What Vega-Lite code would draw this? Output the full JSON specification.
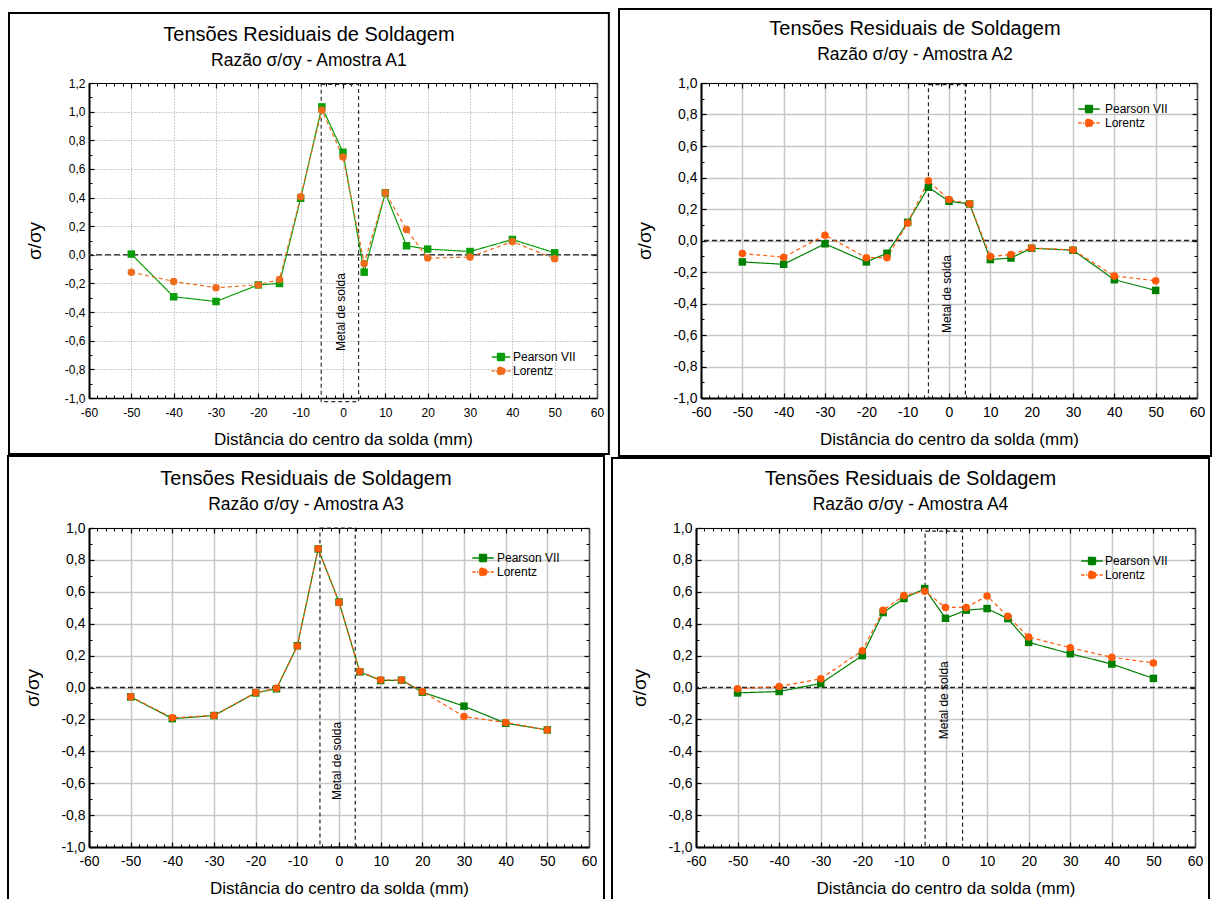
{
"$schema": "https://vega.github.io/schema/vega-lite/v6.json",
"background": "white",
"padding": {"left": 7, "top": 7, "right": 0, "bottom": 0},
"config": {
 "view": {"stroke": null},
 "font": "Liberation Sans",
 "axis": {"labelFont": "Liberation Sans", "titleFont": "Liberation Sans", "labelColor": "black", "titleColor": "black", "titleFontWeight": "normal", "labelFlush": false, "labelOverlap": false, "domainColor": "black", "tickColor": "black", "minExtent": 0},
 "title": {"font": "Liberation Sans", "fontSize": 20, "fontWeight": "normal", "color": "black", "subtitleFont": "Liberation Sans", "subtitleFontSize": 17.5, "subtitleColor": "black", "subtitlePadding": 7, "anchor": "middle", "frame": "bounds"},
 "legend": {"labelFont": "Liberation Sans", "labelColor": "black", "labelFontSize": 12, "padding": 0, "symbolSize": 100, "rowPadding": 0}
},
"datasets": {
 "a1": [
  {"d": -50, "fit": "Pearson VII", "v": 0.005}, {"d": -40, "fit": "Pearson VII", "v": -0.293}, {"d": -30, "fit": "Pearson VII", "v": -0.326}, {"d": -20, "fit": "Pearson VII", "v": -0.21}, {"d": -15, "fit": "Pearson VII", "v": -0.2}, {"d": -10, "fit": "Pearson VII", "v": 0.395}, {"d": -5, "fit": "Pearson VII", "v": 1.033}, {"d": 0, "fit": "Pearson VII", "v": 0.716}, {"d": 5, "fit": "Pearson VII", "v": -0.121}, {"d": 10, "fit": "Pearson VII", "v": 0.433}, {"d": 15, "fit": "Pearson VII", "v": 0.063}, {"d": 20, "fit": "Pearson VII", "v": 0.04}, {"d": 30, "fit": "Pearson VII", "v": 0.023}, {"d": 40, "fit": "Pearson VII", "v": 0.107}, {"d": 50, "fit": "Pearson VII", "v": 0.014},
  {"d": -50, "fit": "Lorentz", "v": -0.121}, {"d": -40, "fit": "Lorentz", "v": -0.186}, {"d": -30, "fit": "Lorentz", "v": -0.23}, {"d": -20, "fit": "Lorentz", "v": -0.21}, {"d": -15, "fit": "Lorentz", "v": -0.172}, {"d": -10, "fit": "Lorentz", "v": 0.405}, {"d": -5, "fit": "Lorentz", "v": 1.009}, {"d": 0, "fit": "Lorentz", "v": 0.684}, {"d": 5, "fit": "Lorentz", "v": -0.06}, {"d": 10, "fit": "Lorentz", "v": 0.433}, {"d": 15, "fit": "Lorentz", "v": 0.177}, {"d": 20, "fit": "Lorentz", "v": -0.023}, {"d": 30, "fit": "Lorentz", "v": -0.016}, {"d": 40, "fit": "Lorentz", "v": 0.093}, {"d": 50, "fit": "Lorentz", "v": -0.028}
 ],
 "a2": [
  {"d": -50, "fit": "Pearson VII", "v": -0.136}, {"d": -40, "fit": "Pearson VII", "v": -0.151}, {"d": -30, "fit": "Pearson VII", "v": -0.021}, {"d": -20, "fit": "Pearson VII", "v": -0.136}, {"d": -15, "fit": "Pearson VII", "v": -0.081}, {"d": -10, "fit": "Pearson VII", "v": 0.115}, {"d": -5, "fit": "Pearson VII", "v": 0.338}, {"d": 0, "fit": "Pearson VII", "v": 0.249}, {"d": 5, "fit": "Pearson VII", "v": 0.232}, {"d": 10, "fit": "Pearson VII", "v": -0.121}, {"d": 15, "fit": "Pearson VII", "v": -0.111}, {"d": 20, "fit": "Pearson VII", "v": -0.049}, {"d": 30, "fit": "Pearson VII", "v": -0.062}, {"d": 40, "fit": "Pearson VII", "v": -0.249}, {"d": 50, "fit": "Pearson VII", "v": -0.317},
  {"d": -50, "fit": "Lorentz", "v": -0.083}, {"d": -40, "fit": "Lorentz", "v": -0.106}, {"d": -30, "fit": "Lorentz", "v": 0.034}, {"d": -20, "fit": "Lorentz", "v": -0.109}, {"d": -15, "fit": "Lorentz", "v": -0.109}, {"d": -10, "fit": "Lorentz", "v": 0.111}, {"d": -5, "fit": "Lorentz", "v": 0.379}, {"d": 0, "fit": "Lorentz", "v": 0.26}, {"d": 5, "fit": "Lorentz", "v": 0.234}, {"d": 10, "fit": "Lorentz", "v": -0.102}, {"d": 15, "fit": "Lorentz", "v": -0.089}, {"d": 20, "fit": "Lorentz", "v": -0.047}, {"d": 30, "fit": "Lorentz", "v": -0.06}, {"d": 40, "fit": "Lorentz", "v": -0.226}, {"d": 50, "fit": "Lorentz", "v": -0.255}
 ],
 "a3": [
  {"d": -50, "fit": "Pearson VII", "v": -0.059}, {"d": -40, "fit": "Pearson VII", "v": -0.195}, {"d": -30, "fit": "Pearson VII", "v": -0.176}, {"d": -20, "fit": "Pearson VII", "v": -0.034}, {"d": -15, "fit": "Pearson VII", "v": -0.008}, {"d": -10, "fit": "Pearson VII", "v": 0.262}, {"d": -5, "fit": "Pearson VII", "v": 0.869}, {"d": 0, "fit": "Pearson VII", "v": 0.536}, {"d": 5, "fit": "Pearson VII", "v": 0.098}, {"d": 10, "fit": "Pearson VII", "v": 0.044}, {"d": 15, "fit": "Pearson VII", "v": 0.046}, {"d": 20, "fit": "Pearson VII", "v": -0.029}, {"d": 30, "fit": "Pearson VII", "v": -0.117}, {"d": 40, "fit": "Pearson VII", "v": -0.224}, {"d": 50, "fit": "Pearson VII", "v": -0.266},
  {"d": -50, "fit": "Lorentz", "v": -0.058}, {"d": -40, "fit": "Lorentz", "v": -0.19}, {"d": -30, "fit": "Lorentz", "v": -0.175}, {"d": -20, "fit": "Lorentz", "v": -0.032}, {"d": -15, "fit": "Lorentz", "v": -0.005}, {"d": -10, "fit": "Lorentz", "v": 0.26}, {"d": -5, "fit": "Lorentz", "v": 0.87}, {"d": 0, "fit": "Lorentz", "v": 0.535}, {"d": 5, "fit": "Lorentz", "v": 0.1}, {"d": 10, "fit": "Lorentz", "v": 0.047}, {"d": 15, "fit": "Lorentz", "v": 0.047}, {"d": 20, "fit": "Lorentz", "v": -0.025}, {"d": 30, "fit": "Lorentz", "v": -0.182}, {"d": 40, "fit": "Lorentz", "v": -0.22}, {"d": 50, "fit": "Lorentz", "v": -0.266}
 ],
 "a4": [
  {"d": -50, "fit": "Pearson VII", "v": -0.034}, {"d": -40, "fit": "Pearson VII", "v": -0.025}, {"d": -30, "fit": "Pearson VII", "v": 0.025}, {"d": -20, "fit": "Pearson VII", "v": 0.2}, {"d": -15, "fit": "Pearson VII", "v": 0.47}, {"d": -10, "fit": "Pearson VII", "v": 0.558}, {"d": -5, "fit": "Pearson VII", "v": 0.62}, {"d": 0, "fit": "Pearson VII", "v": 0.434}, {"d": 5, "fit": "Pearson VII", "v": 0.485}, {"d": 10, "fit": "Pearson VII", "v": 0.495}, {"d": 15, "fit": "Pearson VII", "v": 0.432}, {"d": 20, "fit": "Pearson VII", "v": 0.283}, {"d": 30, "fit": "Pearson VII", "v": 0.212}, {"d": 40, "fit": "Pearson VII", "v": 0.147}, {"d": 50, "fit": "Pearson VII", "v": 0.057},
  {"d": -50, "fit": "Lorentz", "v": -0.008}, {"d": -40, "fit": "Lorentz", "v": 0.006}, {"d": -30, "fit": "Lorentz", "v": 0.055}, {"d": -20, "fit": "Lorentz", "v": 0.231}, {"d": -15, "fit": "Lorentz", "v": 0.484}, {"d": -10, "fit": "Lorentz", "v": 0.577}, {"d": -5, "fit": "Lorentz", "v": 0.604}, {"d": 0, "fit": "Lorentz", "v": 0.502}, {"d": 5, "fit": "Lorentz", "v": 0.502}, {"d": 10, "fit": "Lorentz", "v": 0.574}, {"d": 15, "fit": "Lorentz", "v": 0.446}, {"d": 20, "fit": "Lorentz", "v": 0.316}, {"d": 30, "fit": "Lorentz", "v": 0.25}, {"d": 40, "fit": "Lorentz", "v": 0.189}, {"d": 50, "fit": "Lorentz", "v": 0.154}
 ]
},
"resolve": {"scale": {"color": "independent", "strokeDash": "independent"}},
"spacing": -2,
"vconcat": [
{
"resolve": {"scale": {"color": "independent", "strokeDash": "independent"}},
"spacing": 7,
"hconcat": [
{
 "width": 508, "height": 315,
 "data": {"name": "a1"},
 "title": {"text": "Tensões Residuais de Soldagem", "subtitle": "Razão σ/σy - Amostra A1", "offset": -58},
 "resolve": {"axis": {"x": "independent", "y": "independent"}},
 "layer": [
  {"data": {"values": [{}]}, "mark": {"type": "rect", "fill": "white", "fillOpacity": 0, "stroke": "black", "strokeWidth": 2},
   "encoding": {"x": {"datum": -78.9, "type": "quantitative", "scale": {"domain": [-60, 60], "nice": false, "zero": false}, "axis": null}, "x2": {"datum": 62.8},
                "y": {"datum": 1.689, "type": "quantitative", "scale": {"domain": [-1, 1.2], "nice": false, "zero": false}, "axis": null}, "y2": {"datum": -1.391}}},
  {"data": {"values": [{}]}, "mark": {"type": "rect", "fill": "white", "fillOpacity": 0, "stroke": "#333", "strokeWidth": 1.2, "strokeDash": [4, 3]},
   "encoding": {"x": {"datum": -5.15, "type": "quantitative", "scale": {"domain": [-60, 60], "nice": false, "zero": false}, "axis": null}, "x2": {"datum": 3.68},
                "y": {"datum": 1.19, "type": "quantitative", "scale": {"domain": [-1, 1.2], "nice": false, "zero": false}, "axis": null}, "y2": {"datum": -1.026}}},
  {"data": {"values": [{}]}, "mark": {"type": "rule", "color": "#444", "strokeWidth": 1.5, "strokeDash": [6, 3]},
   "encoding": {"y": {"datum": 0, "type": "quantitative", "scale": {"domain": [-1, 1.2], "nice": false, "zero": false}, "axis": null}}},
  {"data": {"values": [{"t": "Metal de solda"}]}, "mark": {"type": "text", "angle": 270, "fontSize": 12, "font": "Liberation Sans", "color": "black", "align": "center", "baseline": "middle"},
   "encoding": {"text": {"field": "t"}, "x": {"datum": -0.55, "type": "quantitative", "scale": {"domain": [-60, 60], "nice": false, "zero": false}, "axis": null},
                "y": {"datum": -0.4, "type": "quantitative", "scale": {"domain": [-1, 1.2], "nice": false, "zero": false}, "axis": null}}},
  {"mark": {"type": "line", "strokeWidth": 1.2},
   "encoding": {
    "x": {"field": "d", "type": "quantitative", "scale": {"domain": [-60, 60], "nice": false, "zero": false},
          "axis": {"orient": "bottom", "values": [-60,-50,-40,-30,-20,-10,0,10,20,30,40,50,60], "grid": true, "gridColor": "#9a9a9a", "gridDash": [1, 2], "gridWidth": 1, "ticks": false, "domain": true, "domainWidth": 1.5, "labelExpr": "(datum.value < 0 ? '-' : '') + abs(datum.value)", "labelFontSize": 12, "labelPadding": 9, "title": "Distância do centro da solda (mm)", "titleFontSize": 17, "titlePadding": 13}},
    "y": {"field": "v", "type": "quantitative", "scale": {"domain": [-1, 1.2], "nice": false, "zero": false},
          "axis": {"orient": "left", "values": [-1,-0.8,-0.6,-0.4,-0.2,0,0.2,0.4,0.6,0.8,1,1.2], "grid": true, "gridColor": "#9a9a9a", "gridDash": [1, 2], "gridWidth": 1, "ticks": false, "domain": true, "domainWidth": 2, "labelExpr": "(datum.value < -0.0001 ? '-' : '') + replace(format(abs(datum.value), '.1f'), '.', ',')", "labelFontSize": 12, "labelPadding": 4, "title": "σ/σy", "titleFontSize": 19, "titlePadding": 20}},
    "color": {"field": "fit", "type": "nominal", "scale": {"domain": ["Pearson VII", "Lorentz"], "range": ["#0a9e0a", "#ee6b1c"]},
              "legend": {"orient": "none", "legendX": 406, "legendY": 268, "title": null, "labelOffset": 6,
                         "encode": {"symbols": {"update": {
                           "shape": {"signal": "datum.value === 'Pearson VII' ? 'M-1.86,0H1.86M-0.7,-0.7H0.7V0.7H-0.7Z' : 'M-1.86,0H-1.3M-1.05,0H-0.85M0.85,0H1.05M1.3,0H1.86M0.8,0A0.8,0.8,0,1,1,-0.8,0A0.8,0.8,0,1,1,0.8,0Z'"},
                           "fill": {"signal": "datum.value === 'Pearson VII' ? '#0a9e0a' : '#ee6b1c'"},
                           "size": {"value": 100}, "strokeWidth": {"value": 1.3}, "opacity": {"value": 1}, "fillOpacity": {"value": 1}}}}}},
    "strokeDash": {"field": "fit", "type": "nominal", "scale": {"domain": ["Pearson VII", "Lorentz"], "range": [[1, 0], [4, 3]]}, "legend": null}
   }},
  {"transform": [{"filter": "datum.fit === 'Pearson VII'"}],
   "mark": {"type": "point", "shape": "square", "filled": true, "size": 56, "opacity": 1, "color": "#0a9e0a"},
   "encoding": {
    "x": {"field": "d", "type": "quantitative", "scale": {"domain": [-60, 60], "nice": false, "zero": false}, "axis": null},
    "y": {"field": "v", "type": "quantitative", "scale": {"domain": [-1, 1.2], "nice": false, "zero": false}, "axis": null}
   }},
  {"transform": [{"filter": "datum.fit === 'Lorentz'"}],
   "mark": {"type": "point", "shape": "circle", "filled": true, "size": 56, "opacity": 1, "color": "#ee6b1c"},
   "encoding": {
    "x": {"field": "d", "type": "quantitative", "scale": {"domain": [-60, 60], "nice": false, "zero": false}, "axis": null},
    "y": {"field": "v", "type": "quantitative", "scale": {"domain": [-1, 1.2], "nice": false, "zero": false}, "axis": null}
   }},
  {"mark": {"type": "point", "opacity": 0},
   "encoding": {
    "x": {"field": "d", "type": "quantitative", "scale": {"domain": [-60, 60], "nice": false, "zero": false}, "axis": {"orient": "bottom", "values": [-60,-50,-40,-30,-20,-10,0,10,20,30,40,50,60], "labels": false, "domain": false, "grid": false, "ticks": true, "tickSize": -5, "tickWidth": 1.2, "title": null}},
    "y": {"field": "v", "type": "quantitative", "scale": {"domain": [-1, 1.2], "nice": false, "zero": false}, "axis": {"orient": "left", "values": [-1,-0.8,-0.6,-0.4,-0.2,0,0.2,0.4,0.6,0.8,1,1.2], "labels": false, "domain": false, "grid": false, "ticks": true, "tickSize": -5, "tickWidth": 1.2, "title": null}}
   }},
  {"mark": {"type": "point", "opacity": 0},
   "encoding": {
    "x": {"field": "d", "type": "quantitative", "scale": {"domain": [-60, 60], "nice": false, "zero": false}, "axis": {"orient": "bottom", "values": [-58,-56,-54,-52,-48,-46,-44,-42,-38,-36,-34,-32,-28,-26,-24,-22,-18,-16,-14,-12,-8,-6,-4,-2,2,4,6,8,12,14,16,18,22,24,26,28,32,34,36,38,42,44,46,48,52,54,56,58], "labels": false, "domain": false, "grid": false, "ticks": true, "tickSize": -3, "tickWidth": 1, "title": null}},
    "y": {"field": "v", "type": "quantitative", "scale": {"domain": [-1, 1.2], "nice": false, "zero": false}, "axis": {"orient": "left", "values": [-0.9,-0.7,-0.5,-0.3,-0.1,0.1,0.3,0.5,0.7,0.9,1.1], "labels": false, "domain": false, "grid": false, "ticks": true, "tickSize": -3, "tickWidth": 1, "title": null}}
   }},
  {"mark": {"type": "point", "opacity": 0},
   "encoding": {
    "x": {"field": "d", "type": "quantitative", "scale": {"domain": [-60, 60], "nice": false, "zero": false}, "axis": {"orient": "top", "values": [-60,-50,-40,-30,-20,-10,0,10,20,30,40,50,60], "labels": false, "domain": true, "domainWidth": 1.2, "grid": false, "ticks": true, "tickSize": -5, "tickWidth": 1.2, "title": null}},
    "y": {"field": "v", "type": "quantitative", "scale": {"domain": [-1, 1.2], "nice": false, "zero": false}, "axis": {"orient": "right", "values": [-1,-0.8,-0.6,-0.4,-0.2,0,0.2,0.4,0.6,0.8,1,1.2], "labels": false, "domain": true, "domainColor": "#555", "domainWidth": 1.5, "grid": false, "ticks": true, "tickSize": -5, "tickWidth": 1.2, "title": null}}
   }},
  {"mark": {"type": "point", "opacity": 0},
   "encoding": {
    "x": {"field": "d", "type": "quantitative", "scale": {"domain": [-60, 60], "nice": false, "zero": false}, "axis": {"orient": "top", "values": [-58,-56,-54,-52,-48,-46,-44,-42,-38,-36,-34,-32,-28,-26,-24,-22,-18,-16,-14,-12,-8,-6,-4,-2,2,4,6,8,12,14,16,18,22,24,26,28,32,34,36,38,42,44,46,48,52,54,56,58], "labels": false, "domain": false, "grid": false, "ticks": true, "tickSize": -3, "tickWidth": 1, "title": null}},
    "y": {"field": "v", "type": "quantitative", "scale": {"domain": [-1, 1.2], "nice": false, "zero": false}, "axis": {"orient": "right", "values": [-0.9,-0.7,-0.5,-0.3,-0.1,0.1,0.3,0.5,0.7,0.9,1.1], "labels": false, "domain": false, "grid": false, "ticks": true, "tickSize": -3, "tickWidth": 1, "title": null}}
   }}
 ]
},
{
 "width": 496, "height": 315,
 "data": {"name": "a2"},
 "title": {"text": "Tensões Residuais de Soldagem", "subtitle": "Razão σ/σy - Amostra A2", "offset": -56},
 "resolve": {"axis": {"x": "independent", "y": "independent"}},
 "layer": [
  {"data": {"values": [{}]}, "mark": {"type": "rect", "fill": "white", "fillOpacity": 0, "stroke": "black", "strokeWidth": 2},
   "encoding": {"x": {"datum": -79.84, "type": "quantitative", "scale": {"domain": [-60, 60], "nice": false, "zero": false}, "axis": null}, "x2": {"datum": 63.39},
                "y": {"datum": 1.47, "type": "quantitative", "scale": {"domain": [-1, 1], "nice": false, "zero": false}, "axis": null}, "y2": {"datum": -1.368}}},
  {"data": {"values": [{}]}, "mark": {"type": "rect", "fill": "white", "fillOpacity": 0, "stroke": "#222", "strokeWidth": 1.2, "strokeDash": [4, 3]},
   "encoding": {"x": {"datum": -4.97, "type": "quantitative", "scale": {"domain": [-60, 60], "nice": false, "zero": false}, "axis": null}, "x2": {"datum": 3.96},
                "y": {"datum": 0.99, "type": "quantitative", "scale": {"domain": [-1, 1], "nice": false, "zero": false}, "axis": null}, "y2": {"datum": -1.0}}},
  {"data": {"values": [{}]}, "mark": {"type": "rule", "color": "#222", "strokeWidth": 1.3, "strokeDash": [5, 3]},
   "encoding": {"y": {"datum": 0, "type": "quantitative", "scale": {"domain": [-1, 1], "nice": false, "zero": false}, "axis": null}}},
  {"data": {"values": [{"t": "Metal de solda"}]}, "mark": {"type": "text", "angle": 270, "fontSize": 12, "font": "Liberation Sans", "color": "black", "align": "center", "baseline": "middle"},
   "encoding": {"text": {"field": "t"}, "x": {"datum": -0.55, "type": "quantitative", "scale": {"domain": [-60, 60], "nice": false, "zero": false}, "axis": null},
                "y": {"datum": -0.34, "type": "quantitative", "scale": {"domain": [-1, 1], "nice": false, "zero": false}, "axis": null}}},
  {"mark": {"type": "line", "strokeWidth": 1.2},
   "encoding": {
    "x": {"field": "d", "type": "quantitative", "scale": {"domain": [-60, 60], "nice": false, "zero": false},
          "axis": {"orient": "bottom", "values": [-60,-50,-40,-30,-20,-10,0,10,20,30,40,50,60], "grid": true, "gridColor": "#c8c8c8", "gridWidth": 1.5, "ticks": false, "domain": true, "domainWidth": 2, "labelExpr": "(datum.value < 0 ? '-' : '') + abs(datum.value)", "labelFontSize": 14, "labelPadding": 7, "title": "Distância do centro da solda (mm)", "titleFontSize": 17, "titlePadding": 12}},
    "y": {"field": "v", "type": "quantitative", "scale": {"domain": [-1, 1], "nice": false, "zero": false},
          "axis": {"orient": "left", "values": [-1,-0.8,-0.6,-0.4,-0.2,0,0.2,0.4,0.6,0.8,1], "grid": true, "gridColor": "#c8c8c8", "gridWidth": 1.5, "ticks": false, "domain": true, "domainWidth": 2, "labelExpr": "(datum.value < -0.0001 ? '-' : '') + replace(format(abs(datum.value), '.1f'), '.', ',')", "labelFontSize": 14, "labelPadding": 4, "title": "σ/σy", "titleFontSize": 19, "titlePadding": 18}},
    "color": {"field": "fit", "type": "nominal", "scale": {"domain": ["Pearson VII", "Lorentz"], "range": ["#008000", "#ff5a0a"]},
              "legend": {"orient": "none", "legendX": 382, "legendY": 20, "title": null, "labelOffset": 10,
                         "encode": {"symbols": {"update": {
                           "shape": {"signal": "datum.value === 'Pearson VII' ? 'M-2.15,0H2.15M-0.7,-0.7H0.7V0.7H-0.7Z' : 'M-2.15,0H-1.5M-1.2,0H-0.95M0.95,0H1.2M1.5,0H2.15M0.8,0A0.8,0.8,0,1,1,-0.8,0A0.8,0.8,0,1,1,0.8,0Z'"},
                           "fill": {"signal": "datum.value === 'Pearson VII' ? '#008000' : '#ff5a0a'"},
                           "size": {"value": 100}, "strokeWidth": {"value": 1.3}, "opacity": {"value": 1}, "fillOpacity": {"value": 1}}}}}},
    "strokeDash": {"field": "fit", "type": "nominal", "scale": {"domain": ["Pearson VII", "Lorentz"], "range": [[1, 0], [4, 3]]}, "legend": null}
   }},
  {"transform": [{"filter": "datum.fit === 'Pearson VII'"}],
   "mark": {"type": "point", "shape": "square", "filled": true, "size": 56, "opacity": 1, "color": "#008000"},
   "encoding": {
    "x": {"field": "d", "type": "quantitative", "scale": {"domain": [-60, 60], "nice": false, "zero": false}, "axis": null},
    "y": {"field": "v", "type": "quantitative", "scale": {"domain": [-1, 1], "nice": false, "zero": false}, "axis": null}
   }},
  {"transform": [{"filter": "datum.fit === 'Lorentz'"}],
   "mark": {"type": "point", "shape": "circle", "filled": true, "size": 56, "opacity": 1, "color": "#ff5a0a"},
   "encoding": {
    "x": {"field": "d", "type": "quantitative", "scale": {"domain": [-60, 60], "nice": false, "zero": false}, "axis": null},
    "y": {"field": "v", "type": "quantitative", "scale": {"domain": [-1, 1], "nice": false, "zero": false}, "axis": null}
   }},
  {"mark": {"type": "point", "opacity": 0},
   "encoding": {
    "x": {"field": "d", "type": "quantitative", "scale": {"domain": [-60, 60], "nice": false, "zero": false}, "axis": {"orient": "bottom", "values": [-60,-50,-40,-30,-20,-10,0,10,20,30,40,50,60], "labels": false, "domain": false, "grid": false, "ticks": true, "tickSize": -5, "tickWidth": 1.2, "title": null}},
    "y": {"field": "v", "type": "quantitative", "scale": {"domain": [-1, 1], "nice": false, "zero": false}, "axis": {"orient": "left", "values": [-1,-0.8,-0.6,-0.4,-0.2,0,0.2,0.4,0.6,0.8,1], "labels": false, "domain": false, "grid": false, "ticks": true, "tickSize": -5, "tickWidth": 1.2, "title": null}}
   }},
  {"mark": {"type": "point", "opacity": 0},
   "encoding": {
    "x": {"field": "d", "type": "quantitative", "scale": {"domain": [-60, 60], "nice": false, "zero": false}, "axis": {"orient": "bottom", "values": [-58,-56,-54,-52,-48,-46,-44,-42,-38,-36,-34,-32,-28,-26,-24,-22,-18,-16,-14,-12,-8,-6,-4,-2,2,4,6,8,12,14,16,18,22,24,26,28,32,34,36,38,42,44,46,48,52,54,56,58], "labels": false, "domain": false, "grid": false, "ticks": true, "tickSize": -3, "tickWidth": 1, "title": null}},
    "y": {"field": "v", "type": "quantitative", "scale": {"domain": [-1, 1], "nice": false, "zero": false}, "axis": {"orient": "left", "values": [-0.9,-0.7,-0.5,-0.3,-0.1,0.1,0.3,0.5,0.7,0.9], "labels": false, "domain": false, "grid": false, "ticks": true, "tickSize": -3, "tickWidth": 1, "title": null}}
   }},
  {"mark": {"type": "point", "opacity": 0},
   "encoding": {
    "x": {"field": "d", "type": "quantitative", "scale": {"domain": [-60, 60], "nice": false, "zero": false}, "axis": {"orient": "top", "values": [-60,-50,-40,-30,-20,-10,0,10,20,30,40,50,60], "labels": false, "domain": true, "domainWidth": 1.2, "grid": false, "ticks": true, "tickSize": -5, "tickWidth": 1.2, "title": null}},
    "y": {"field": "v", "type": "quantitative", "scale": {"domain": [-1, 1], "nice": false, "zero": false}, "axis": {"orient": "right", "values": [-1,-0.8,-0.6,-0.4,-0.2,0,0.2,0.4,0.6,0.8,1], "labels": false, "domain": true, "domainColor": "#555", "domainWidth": 1.5, "grid": false, "ticks": true, "tickSize": -5, "tickWidth": 1.2, "title": null}}
   }},
  {"mark": {"type": "point", "opacity": 0},
   "encoding": {
    "x": {"field": "d", "type": "quantitative", "scale": {"domain": [-60, 60], "nice": false, "zero": false}, "axis": {"orient": "top", "values": [-58,-56,-54,-52,-48,-46,-44,-42,-38,-36,-34,-32,-28,-26,-24,-22,-18,-16,-14,-12,-8,-6,-4,-2,2,4,6,8,12,14,16,18,22,24,26,28,32,34,36,38,42,44,46,48,52,54,56,58], "labels": false, "domain": false, "grid": false, "ticks": true, "tickSize": -3, "tickWidth": 1, "title": null}},
    "y": {"field": "v", "type": "quantitative", "scale": {"domain": [-1, 1], "nice": false, "zero": false}, "axis": {"orient": "right", "values": [-0.9,-0.7,-0.5,-0.3,-0.1,0.1,0.3,0.5,0.7,0.9], "labels": false, "domain": false, "grid": false, "ticks": true, "tickSize": -3, "tickWidth": 1, "title": null}}
   }}
 ]
}
]
},
{
"resolve": {"scale": {"color": "independent", "strokeDash": "independent"}},
"spacing": 6,
"hconcat": [
{
 "width": 500, "height": 319,
 "data": {"name": "a3"},
 "title": {"text": "Tensões Residuais de Soldagem", "subtitle": "Razão σ/σy - Amostra A3", "offset": -58},
 "resolve": {"axis": {"x": "independent", "y": "independent"}},
 "layer": [
  {"data": {"values": [{}]}, "mark": {"type": "rect", "fill": "white", "fillOpacity": 0, "stroke": "black", "strokeWidth": 2},
   "encoding": {"x": {"datum": -79.44, "type": "quantitative", "scale": {"domain": [-60, 60], "nice": false, "zero": false}, "axis": null}, "x2": {"datum": 63.6},
                "y": {"datum": 1.451, "type": "quantitative", "scale": {"domain": [-1, 1], "nice": false, "zero": false}, "axis": null}, "y2": {"datum": -1.351}}},
  {"data": {"values": [{}]}, "mark": {"type": "rect", "fill": "white", "fillOpacity": 0, "stroke": "#222", "strokeWidth": 1.2, "strokeDash": [4, 3]},
   "encoding": {"x": {"datum": -4.57, "type": "quantitative", "scale": {"domain": [-60, 60], "nice": false, "zero": false}, "axis": null}, "x2": {"datum": 3.9},
                "y": {"datum": 1.0, "type": "quantitative", "scale": {"domain": [-1, 1], "nice": false, "zero": false}, "axis": null}, "y2": {"datum": -1.0}}},
  {"data": {"values": [{}]}, "mark": {"type": "rule", "color": "#222", "strokeWidth": 1.3, "strokeDash": [5, 3]},
   "encoding": {"y": {"datum": 0, "type": "quantitative", "scale": {"domain": [-1, 1], "nice": false, "zero": false}, "axis": null}}},
  {"data": {"values": [{"t": "Metal de solda"}]}, "mark": {"type": "text", "angle": 270, "fontSize": 12, "font": "Liberation Sans", "color": "black", "align": "center", "baseline": "middle"},
   "encoding": {"text": {"field": "t"}, "x": {"datum": -0.47, "type": "quantitative", "scale": {"domain": [-60, 60], "nice": false, "zero": false}, "axis": null},
                "y": {"datum": -0.46, "type": "quantitative", "scale": {"domain": [-1, 1], "nice": false, "zero": false}, "axis": null}}},
  {"mark": {"type": "line", "strokeWidth": 1.2},
   "encoding": {
    "x": {"field": "d", "type": "quantitative", "scale": {"domain": [-60, 60], "nice": false, "zero": false},
          "axis": {"orient": "bottom", "values": [-60,-50,-40,-30,-20,-10,0,10,20,30,40,50,60], "grid": true, "gridColor": "#c8c8c8", "gridWidth": 1.5, "ticks": false, "domain": true, "domainWidth": 2, "labelExpr": "(datum.value < 0 ? '-' : '') + abs(datum.value)", "labelFontSize": 14, "labelPadding": 7, "title": "Distância do centro da solda (mm)", "titleFontSize": 17, "titlePadding": 12}},
    "y": {"field": "v", "type": "quantitative", "scale": {"domain": [-1, 1], "nice": false, "zero": false},
          "axis": {"orient": "left", "values": [-1,-0.8,-0.6,-0.4,-0.2,0,0.2,0.4,0.6,0.8,1], "grid": true, "gridColor": "#c8c8c8", "gridWidth": 1.5, "ticks": false, "domain": true, "domainWidth": 2, "labelExpr": "(datum.value < -0.0001 ? '-' : '') + replace(format(abs(datum.value), '.1f'), '.', ',')", "labelFontSize": 14, "labelPadding": 4, "title": "σ/σy", "titleFontSize": 19, "titlePadding": 18}},
    "color": {"field": "fit", "type": "nominal", "scale": {"domain": ["Pearson VII", "Lorentz"], "range": ["#008000", "#ff5a0a"]},
              "legend": {"orient": "none", "legendX": 388, "legendY": 24, "title": null, "labelOffset": 8,
                         "encode": {"symbols": {"update": {
                           "shape": {"signal": "datum.value === 'Pearson VII' ? 'M-2.15,0H2.15M-0.7,-0.7H0.7V0.7H-0.7Z' : 'M-2.15,0H-1.5M-1.2,0H-0.95M0.95,0H1.2M1.5,0H2.15M0.8,0A0.8,0.8,0,1,1,-0.8,0A0.8,0.8,0,1,1,0.8,0Z'"},
                           "fill": {"signal": "datum.value === 'Pearson VII' ? '#008000' : '#ff5a0a'"},
                           "size": {"value": 100}, "strokeWidth": {"value": 1.3}, "opacity": {"value": 1}, "fillOpacity": {"value": 1}}}}}},
    "strokeDash": {"field": "fit", "type": "nominal", "scale": {"domain": ["Pearson VII", "Lorentz"], "range": [[1, 0], [4, 3]]}, "legend": null}
   }},
  {"transform": [{"filter": "datum.fit === 'Pearson VII'"}],
   "mark": {"type": "point", "shape": "square", "filled": true, "size": 56, "opacity": 1, "color": "#008000"},
   "encoding": {
    "x": {"field": "d", "type": "quantitative", "scale": {"domain": [-60, 60], "nice": false, "zero": false}, "axis": null},
    "y": {"field": "v", "type": "quantitative", "scale": {"domain": [-1, 1], "nice": false, "zero": false}, "axis": null}
   }},
  {"transform": [{"filter": "datum.fit === 'Lorentz'"}],
   "mark": {"type": "point", "shape": "circle", "filled": true, "size": 56, "opacity": 1, "color": "#ff5a0a"},
   "encoding": {
    "x": {"field": "d", "type": "quantitative", "scale": {"domain": [-60, 60], "nice": false, "zero": false}, "axis": null},
    "y": {"field": "v", "type": "quantitative", "scale": {"domain": [-1, 1], "nice": false, "zero": false}, "axis": null}
   }},
  {"mark": {"type": "point", "opacity": 0},
   "encoding": {
    "x": {"field": "d", "type": "quantitative", "scale": {"domain": [-60, 60], "nice": false, "zero": false}, "axis": {"orient": "bottom", "values": [-60,-50,-40,-30,-20,-10,0,10,20,30,40,50,60], "labels": false, "domain": false, "grid": false, "ticks": true, "tickSize": -5, "tickWidth": 1.2, "title": null}},
    "y": {"field": "v", "type": "quantitative", "scale": {"domain": [-1, 1], "nice": false, "zero": false}, "axis": {"orient": "left", "values": [-1,-0.8,-0.6,-0.4,-0.2,0,0.2,0.4,0.6,0.8,1], "labels": false, "domain": false, "grid": false, "ticks": true, "tickSize": -5, "tickWidth": 1.2, "title": null}}
   }},
  {"mark": {"type": "point", "opacity": 0},
   "encoding": {
    "x": {"field": "d", "type": "quantitative", "scale": {"domain": [-60, 60], "nice": false, "zero": false}, "axis": {"orient": "bottom", "values": [-58,-56,-54,-52,-48,-46,-44,-42,-38,-36,-34,-32,-28,-26,-24,-22,-18,-16,-14,-12,-8,-6,-4,-2,2,4,6,8,12,14,16,18,22,24,26,28,32,34,36,38,42,44,46,48,52,54,56,58], "labels": false, "domain": false, "grid": false, "ticks": true, "tickSize": -3, "tickWidth": 1, "title": null}},
    "y": {"field": "v", "type": "quantitative", "scale": {"domain": [-1, 1], "nice": false, "zero": false}, "axis": {"orient": "left", "values": [-0.9,-0.7,-0.5,-0.3,-0.1,0.1,0.3,0.5,0.7,0.9], "labels": false, "domain": false, "grid": false, "ticks": true, "tickSize": -3, "tickWidth": 1, "title": null}}
   }},
  {"mark": {"type": "point", "opacity": 0},
   "encoding": {
    "x": {"field": "d", "type": "quantitative", "scale": {"domain": [-60, 60], "nice": false, "zero": false}, "axis": {"orient": "top", "values": [-60,-50,-40,-30,-20,-10,0,10,20,30,40,50,60], "labels": false, "domain": true, "domainWidth": 1.2, "grid": false, "ticks": true, "tickSize": -5, "tickWidth": 1.2, "title": null}},
    "y": {"field": "v", "type": "quantitative", "scale": {"domain": [-1, 1], "nice": false, "zero": false}, "axis": {"orient": "right", "values": [-1,-0.8,-0.6,-0.4,-0.2,0,0.2,0.4,0.6,0.8,1], "labels": false, "domain": true, "domainColor": "#555", "domainWidth": 1.5, "grid": false, "ticks": true, "tickSize": -5, "tickWidth": 1.2, "title": null}}
   }},
  {"mark": {"type": "point", "opacity": 0},
   "encoding": {
    "x": {"field": "d", "type": "quantitative", "scale": {"domain": [-60, 60], "nice": false, "zero": false}, "axis": {"orient": "top", "values": [-58,-56,-54,-52,-48,-46,-44,-42,-38,-36,-34,-32,-28,-26,-24,-22,-18,-16,-14,-12,-8,-6,-4,-2,2,4,6,8,12,14,16,18,22,24,26,28,32,34,36,38,42,44,46,48,52,54,56,58], "labels": false, "domain": false, "grid": false, "ticks": true, "tickSize": -3, "tickWidth": 1, "title": null}},
    "y": {"field": "v", "type": "quantitative", "scale": {"domain": [-1, 1], "nice": false, "zero": false}, "axis": {"orient": "right", "values": [-0.9,-0.7,-0.5,-0.3,-0.1,0.1,0.3,0.5,0.7,0.9], "labels": false, "domain": false, "grid": false, "ticks": true, "tickSize": -3, "tickWidth": 1, "title": null}}
   }}
 ]
},
{
 "width": 499, "height": 319,
 "data": {"name": "a4"},
 "title": {"text": "Tensões Residuais de Soldagem", "subtitle": "Razão σ/σy - Amostra A4", "offset": -57},
 "resolve": {"axis": {"x": "independent", "y": "independent"}},
 "layer": [
  {"data": {"values": [{}]}, "mark": {"type": "rect", "fill": "white", "fillOpacity": 0, "stroke": "black", "strokeWidth": 2},
   "encoding": {"x": {"datum": -80.2, "type": "quantitative", "scale": {"domain": [-60, 60], "nice": false, "zero": false}, "axis": null}, "x2": {"datum": 63.37},
                "y": {"datum": 1.439, "type": "quantitative", "scale": {"domain": [-1, 1], "nice": false, "zero": false}, "axis": null}, "y2": {"datum": -1.351}}},
  {"data": {"values": [{}]}, "mark": {"type": "rect", "fill": "white", "fillOpacity": 0, "stroke": "#222", "strokeWidth": 1.2, "strokeDash": [4, 3]},
   "encoding": {"x": {"datum": -4.9, "type": "quantitative", "scale": {"domain": [-60, 60], "nice": false, "zero": false}, "axis": null}, "x2": {"datum": 4.1},
                "y": {"datum": 0.98, "type": "quantitative", "scale": {"domain": [-1, 1], "nice": false, "zero": false}, "axis": null}, "y2": {"datum": -1.0}}},
  {"data": {"values": [{}]}, "mark": {"type": "rule", "color": "#222", "strokeWidth": 1.3, "strokeDash": [5, 3]},
   "encoding": {"y": {"datum": 0, "type": "quantitative", "scale": {"domain": [-1, 1], "nice": false, "zero": false}, "axis": null}}},
  {"data": {"values": [{"t": "Metal de solda"}]}, "mark": {"type": "text", "angle": 270, "fontSize": 12, "font": "Liberation Sans", "color": "black", "align": "center", "baseline": "middle"},
   "encoding": {"text": {"field": "t"}, "x": {"datum": -0.27, "type": "quantitative", "scale": {"domain": [-60, 60], "nice": false, "zero": false}, "axis": null},
                "y": {"datum": -0.08, "type": "quantitative", "scale": {"domain": [-1, 1], "nice": false, "zero": false}, "axis": null}}},
  {"mark": {"type": "line", "strokeWidth": 1.2},
   "encoding": {
    "x": {"field": "d", "type": "quantitative", "scale": {"domain": [-60, 60], "nice": false, "zero": false},
          "axis": {"orient": "bottom", "values": [-60,-50,-40,-30,-20,-10,0,10,20,30,40,50,60], "grid": true, "gridColor": "#c8c8c8", "gridWidth": 1.5, "ticks": false, "domain": true, "domainWidth": 2, "labelExpr": "(datum.value < 0 ? '-' : '') + abs(datum.value)", "labelFontSize": 14, "labelPadding": 7, "title": "Distância do centro da solda (mm)", "titleFontSize": 17, "titlePadding": 12}},
    "y": {"field": "v", "type": "quantitative", "scale": {"domain": [-1, 1], "nice": false, "zero": false},
          "axis": {"orient": "left", "values": [-1,-0.8,-0.6,-0.4,-0.2,0,0.2,0.4,0.6,0.8,1], "grid": true, "gridColor": "#c8c8c8", "gridWidth": 1.5, "ticks": false, "domain": true, "domainWidth": 2, "labelExpr": "(datum.value < -0.0001 ? '-' : '') + replace(format(abs(datum.value), '.1f'), '.', ',')", "labelFontSize": 14, "labelPadding": 4, "title": "σ/σy", "titleFontSize": 19, "titlePadding": 18}},
    "color": {"field": "fit", "type": "nominal", "scale": {"domain": ["Pearson VII", "Lorentz"], "range": ["#008000", "#ff5a0a"]},
              "legend": {"orient": "none", "legendX": 390, "legendY": 27, "title": null, "labelOffset": 7,
                         "encode": {"symbols": {"update": {
                           "shape": {"signal": "datum.value === 'Pearson VII' ? 'M-2.15,0H2.15M-0.7,-0.7H0.7V0.7H-0.7Z' : 'M-2.15,0H-1.5M-1.2,0H-0.95M0.95,0H1.2M1.5,0H2.15M0.8,0A0.8,0.8,0,1,1,-0.8,0A0.8,0.8,0,1,1,0.8,0Z'"},
                           "fill": {"signal": "datum.value === 'Pearson VII' ? '#008000' : '#ff5a0a'"},
                           "size": {"value": 100}, "strokeWidth": {"value": 1.3}, "opacity": {"value": 1}, "fillOpacity": {"value": 1}}}}}},
    "strokeDash": {"field": "fit", "type": "nominal", "scale": {"domain": ["Pearson VII", "Lorentz"], "range": [[1, 0], [4, 3]]}, "legend": null}
   }},
  {"transform": [{"filter": "datum.fit === 'Pearson VII'"}],
   "mark": {"type": "point", "shape": "square", "filled": true, "size": 56, "opacity": 1, "color": "#008000"},
   "encoding": {
    "x": {"field": "d", "type": "quantitative", "scale": {"domain": [-60, 60], "nice": false, "zero": false}, "axis": null},
    "y": {"field": "v", "type": "quantitative", "scale": {"domain": [-1, 1], "nice": false, "zero": false}, "axis": null}
   }},
  {"transform": [{"filter": "datum.fit === 'Lorentz'"}],
   "mark": {"type": "point", "shape": "circle", "filled": true, "size": 56, "opacity": 1, "color": "#ff5a0a"},
   "encoding": {
    "x": {"field": "d", "type": "quantitative", "scale": {"domain": [-60, 60], "nice": false, "zero": false}, "axis": null},
    "y": {"field": "v", "type": "quantitative", "scale": {"domain": [-1, 1], "nice": false, "zero": false}, "axis": null}
   }},
  {"mark": {"type": "point", "opacity": 0},
   "encoding": {
    "x": {"field": "d", "type": "quantitative", "scale": {"domain": [-60, 60], "nice": false, "zero": false}, "axis": {"orient": "bottom", "values": [-60,-50,-40,-30,-20,-10,0,10,20,30,40,50,60], "labels": false, "domain": false, "grid": false, "ticks": true, "tickSize": -5, "tickWidth": 1.2, "title": null}},
    "y": {"field": "v", "type": "quantitative", "scale": {"domain": [-1, 1], "nice": false, "zero": false}, "axis": {"orient": "left", "values": [-1,-0.8,-0.6,-0.4,-0.2,0,0.2,0.4,0.6,0.8,1], "labels": false, "domain": false, "grid": false, "ticks": true, "tickSize": -5, "tickWidth": 1.2, "title": null}}
   }},
  {"mark": {"type": "point", "opacity": 0},
   "encoding": {
    "x": {"field": "d", "type": "quantitative", "scale": {"domain": [-60, 60], "nice": false, "zero": false}, "axis": {"orient": "bottom", "values": [-58,-56,-54,-52,-48,-46,-44,-42,-38,-36,-34,-32,-28,-26,-24,-22,-18,-16,-14,-12,-8,-6,-4,-2,2,4,6,8,12,14,16,18,22,24,26,28,32,34,36,38,42,44,46,48,52,54,56,58], "labels": false, "domain": false, "grid": false, "ticks": true, "tickSize": -3, "tickWidth": 1, "title": null}},
    "y": {"field": "v", "type": "quantitative", "scale": {"domain": [-1, 1], "nice": false, "zero": false}, "axis": {"orient": "left", "values": [-0.9,-0.7,-0.5,-0.3,-0.1,0.1,0.3,0.5,0.7,0.9], "labels": false, "domain": false, "grid": false, "ticks": true, "tickSize": -3, "tickWidth": 1, "title": null}}
   }},
  {"mark": {"type": "point", "opacity": 0},
   "encoding": {
    "x": {"field": "d", "type": "quantitative", "scale": {"domain": [-60, 60], "nice": false, "zero": false}, "axis": {"orient": "top", "values": [-60,-50,-40,-30,-20,-10,0,10,20,30,40,50,60], "labels": false, "domain": true, "domainWidth": 1.2, "grid": false, "ticks": true, "tickSize": -5, "tickWidth": 1.2, "title": null}},
    "y": {"field": "v", "type": "quantitative", "scale": {"domain": [-1, 1], "nice": false, "zero": false}, "axis": {"orient": "right", "values": [-1,-0.8,-0.6,-0.4,-0.2,0,0.2,0.4,0.6,0.8,1], "labels": false, "domain": true, "domainColor": "#555", "domainWidth": 1.5, "grid": false, "ticks": true, "tickSize": -5, "tickWidth": 1.2, "title": null}}
   }},
  {"mark": {"type": "point", "opacity": 0},
   "encoding": {
    "x": {"field": "d", "type": "quantitative", "scale": {"domain": [-60, 60], "nice": false, "zero": false}, "axis": {"orient": "top", "values": [-58,-56,-54,-52,-48,-46,-44,-42,-38,-36,-34,-32,-28,-26,-24,-22,-18,-16,-14,-12,-8,-6,-4,-2,2,4,6,8,12,14,16,18,22,24,26,28,32,34,36,38,42,44,46,48,52,54,56,58], "labels": false, "domain": false, "grid": false, "ticks": true, "tickSize": -3, "tickWidth": 1, "title": null}},
    "y": {"field": "v", "type": "quantitative", "scale": {"domain": [-1, 1], "nice": false, "zero": false}, "axis": {"orient": "right", "values": [-0.9,-0.7,-0.5,-0.3,-0.1,0.1,0.3,0.5,0.7,0.9], "labels": false, "domain": false, "grid": false, "ticks": true, "tickSize": -3, "tickWidth": 1, "title": null}}
   }}
 ]
}
]
}
]
}
